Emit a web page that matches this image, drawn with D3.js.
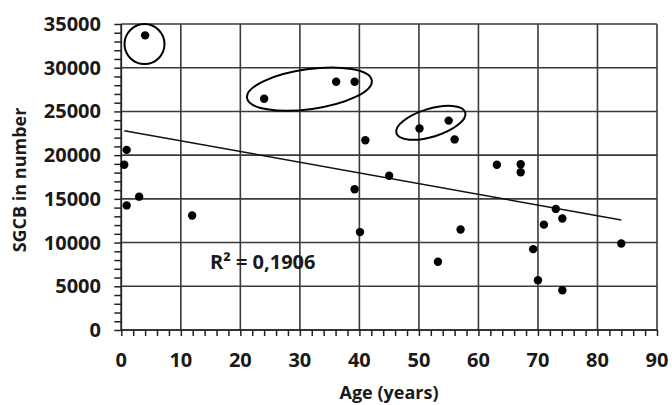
<!DOCTYPE html>
<html><head><meta charset="utf-8">
<script src="https://cdn.jsdelivr.net/npm/d3@7"></script>
<style>body{margin:0;background:#fff}svg{display:block}text{font-family:"Open Sans",sans-serif;font-weight:700;fill:#1a1a1a}</style>
</head><body><svg id="c" width="672" height="405"></svg>
<script>
const ages   = [4.0, 24.0, 36.1, 39.2, 50.1, 41.0, 55.0, 56.0, 63.1, 67.1, 67.1, 45.0, 39.2, 40.1, 57.0, 53.2, 73.0, 74.1, 71.0, 69.2, 70.0, 74.1, 84.0, 0.9, 0.5, 3.0, 0.9, 11.9];
const sgcb   = [33700, 26450, 28400, 28400, 23050, 21700, 23950, 21800, 18900, 18950, 18050, 17650, 16100, 11200, 11500, 7800, 13850, 12750, 12050, 9250, 5700, 4550, 9900, 20600, 18900, 15250, 14250, 13100];
const trendAge = [0.5, 84.0];
const trendVal = [22800, 12580];
const xTicks = [0, 10, 20, 30, 40, 50, 60, 70, 80, 90];
const yTicks = [0, 5000, 10000, 15000, 20000, 25000, 30000, 35000];
const r2Label = "R² = 0,1906";
const xTitle = "Age (years)";
const yTitle = "SGCB in number";
// highlighted groups: centre (age, value)
const groupAge = [3.9, 31.6, 52.0];
const groupVal = [32700, 27550, 23700];

const svg = d3.select("#c");
const L = 121.3, R = 657, T = 24, B = 330;
const x = d3.scaleLinear().domain([0, 90]).range([L, R]);
const y = d3.scaleLinear().domain([0, 35000]).range([B, T]);
const gridCol = "#3a3a3a";

// grid
svg.append("g").selectAll("line").data(xTicks).join("line")
  .attr("x1", d => x(d)).attr("x2", d => x(d)).attr("y1", T).attr("y2", B)
  .attr("stroke", gridCol).attr("stroke-width", 1.6);
svg.append("g").selectAll("line").data(yTicks).join("line")
  .attr("x1", L).attr("x2", R).attr("y1", d => y(d)).attr("y2", d => y(d))
  .attr("stroke", gridCol).attr("stroke-width", 1.6);

// axes
const xAxis = d3.axisBottom(x).tickValues(d3.range(0, 91, 2)).tickSize(6).tickFormat("");
const gx = svg.append("g").attr("transform", `translate(0,${B})`).call(xAxis);
gx.selectAll("path,line").attr("stroke", "#222").attr("stroke-width", 1.5);
gx.select(".domain").attr("d", `M${L},0H${R}`);
const yAxis = d3.axisLeft(y).tickValues(d3.range(0, 35001, 1000)).tickSize(7).tickFormat("");
const gy = svg.append("g").attr("transform", `translate(${L},0)`).call(yAxis);
gy.selectAll("path,line").attr("stroke", "#222").attr("stroke-width", 1.5);
gy.select(".domain").attr("d", `M0,${T}V${B}`);

// tick labels
svg.append("g").selectAll("text").data(xTicks).join("text")
  .attr("x", d => x(d)).attr("y", 367).attr("text-anchor", "middle")
  .attr("font-size", 20).text(d => d);
svg.append("g").selectAll("text").data(yTicks).join("text")
  .attr("x", 101).attr("y", d => y(d) + 7).attr("text-anchor", "end")
  .attr("font-size", 20).text(d => d);

// titles
svg.append("text").attr("x", 389).attr("y", 399).attr("text-anchor", "middle")
  .attr("font-size", 18).text(xTitle);
svg.append("text").attr("transform", "translate(26,180) rotate(-90)").attr("text-anchor", "middle")
  .attr("font-size", 18).text(yTitle);

// trend line
svg.append("line")
  .attr("x1", x(trendAge[0])).attr("y1", y(trendVal[0]))
  .attr("x2", x(trendAge[1])).attr("y2", y(trendVal[1]))
  .attr("stroke", "#111").attr("stroke-width", 1.5);

// points
svg.append("g").selectAll("circle").data(ages.map((a, i) => [a, sgcb[i]])).join("circle")
  .attr("cx", d => x(d[0])).attr("cy", d => y(d[1])).attr("r", 4.2).attr("fill", "#000");

// group ellipses
const ellStyle = [{rx: 20, ry: 20, rot: 0}, {rx: 63, ry: 20, rot: -8}, {rx: 36, ry: 14, rot: -17}];
svg.append("g").selectAll("ellipse").data(groupAge.map((a, i) => [a, groupVal[i], ellStyle[i]])).join("ellipse")
  .attr("transform", d => `translate(${x(d[0])},${y(d[1])}) rotate(${d[2].rot})`)
  .attr("rx", d => d[2].rx).attr("ry", d => d[2].ry)
  .attr("fill", "none").attr("stroke", "#000").attr("stroke-width", 2);

// R2 label
svg.append("text").attr("x", 210).attr("y", 269).attr("font-size", 20).text(r2Label);
</script></body></html>
